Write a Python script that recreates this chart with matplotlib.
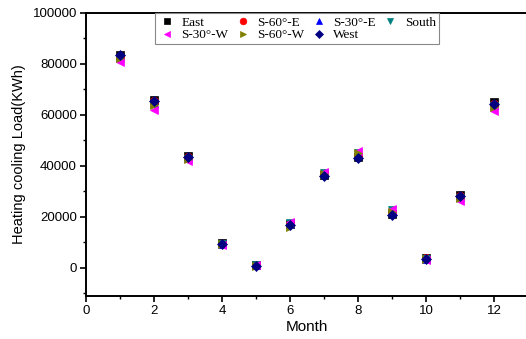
import matplotlib.pyplot as plt
from matplotlib.ticker import MultipleLocator

FIGSIZE = (5.26, 3.39)
FONTSIZE = 11

months = [1, 2, 3, 4, 5, 6, 7, 8, 9, 10, 11, 12]

# monthly heating/cooling load per orientation (kWh)
east = [83500, 65800, 43800, 9600, 1000, 17200, 36300, 43500, 21300, 3800, 28600, 64800]
s60e = [83000, 65200, 43400, 9400, 1100, 17000, 36600, 44000, 21600, 3700, 28300, 64300]
s30e = [82600, 64700, 43000, 9300, 1200, 17300, 37000, 44600, 22100, 3600, 27800, 63800]
south = [82300, 64300, 42700, 9200, 1200, 17500, 37200, 45000, 22500, 3500, 27400, 63300]
s30w = [80600, 62000, 41800, 9000, 1300, 17800, 37600, 45600, 23000, 3200, 26100, 61600]
s60w = [82000, 63600, 42600, 9200, 900, 16200, 36800, 44900, 22000, 3600, 27200, 62900]
west = [83200, 65400, 43300, 9300, 800, 16800, 35800, 43000, 20800, 3500, 28200, 64300]

series = [
    ("East", east, "s", "#000000"),
    ("S-60°-E", s60e, "o", "#ff0000"),
    ("S-30°-E", s30e, "^", "#0000ff"),
    ("South", south, "v", "#008080"),
    ("S-30°-W", s30w, "<", "#ff00ff"),
    ("S-60°-W", s60w, ">", "#808000"),
    ("West", west, "D", "#000080"),
]

plt.rcParams['font.family'] = ['Liberation Sans', 'DejaVu Sans']

fig = plt.figure(figsize=FIGSIZE, dpi=100)
ax = fig.add_axes([86 / 526, 43 / 339, 442 / 526, 283.5 / 339])

handles = {}
for name, vals, mk, col in series:
    ms = 5 if mk == "D" else 6
    h, = ax.plot(months, vals, linestyle="none", marker=mk, color=col,
                 markersize=ms, markeredgewidth=0.5, label=name)
    handles[name] = h

ax.set_xlim(0, 13)
ax.set_ylim(-11000, 100000)
ax.xaxis.set_major_locator(MultipleLocator(2))
ax.xaxis.set_minor_locator(MultipleLocator(1))
ax.yaxis.set_major_locator(MultipleLocator(20000))
ax.yaxis.set_minor_locator(MultipleLocator(10000))
ax.tick_params(axis='both', which='major', direction='out', length=4, width=1.2,
               labelsize=9.5, colors='black', pad=2.5)
ax.tick_params(axis='both', which='minor', direction='out', length=2.5, width=1.0)
for side in ['left', 'bottom', 'top', 'right']:
    ax.spines[side].set_linewidth(1.4)

ax.set_xlabel('Month', fontsize=FONTSIZE, labelpad=2)
ax.set_ylabel('Heating cooling Load(KWh)', fontsize=10.5, labelpad=5)

# column-major order so rows read East..South / S-30°-W..West
order = ["East", "S-30°-W", "S-60°-E", "S-60°-W", "S-30°-E", "West", "South"]
leg = ax.legend([handles[n] for n in order], order, ncol=4, loc='upper left',
                bbox_to_anchor=(0.157, 0.997), frameon=True, fancybox=False,
                edgecolor='#888888', framealpha=1, borderaxespad=0.0,
                prop={'family': 'Liberation Serif', 'size': 9.5},
                handletextpad=0.5, columnspacing=0.5, labelspacing=0.0,
                handlelength=1.2, borderpad=0.25, markerscale=0.8)
leg.get_frame().set_linewidth(0.8)

fig.savefig('out.png', dpi=100)
